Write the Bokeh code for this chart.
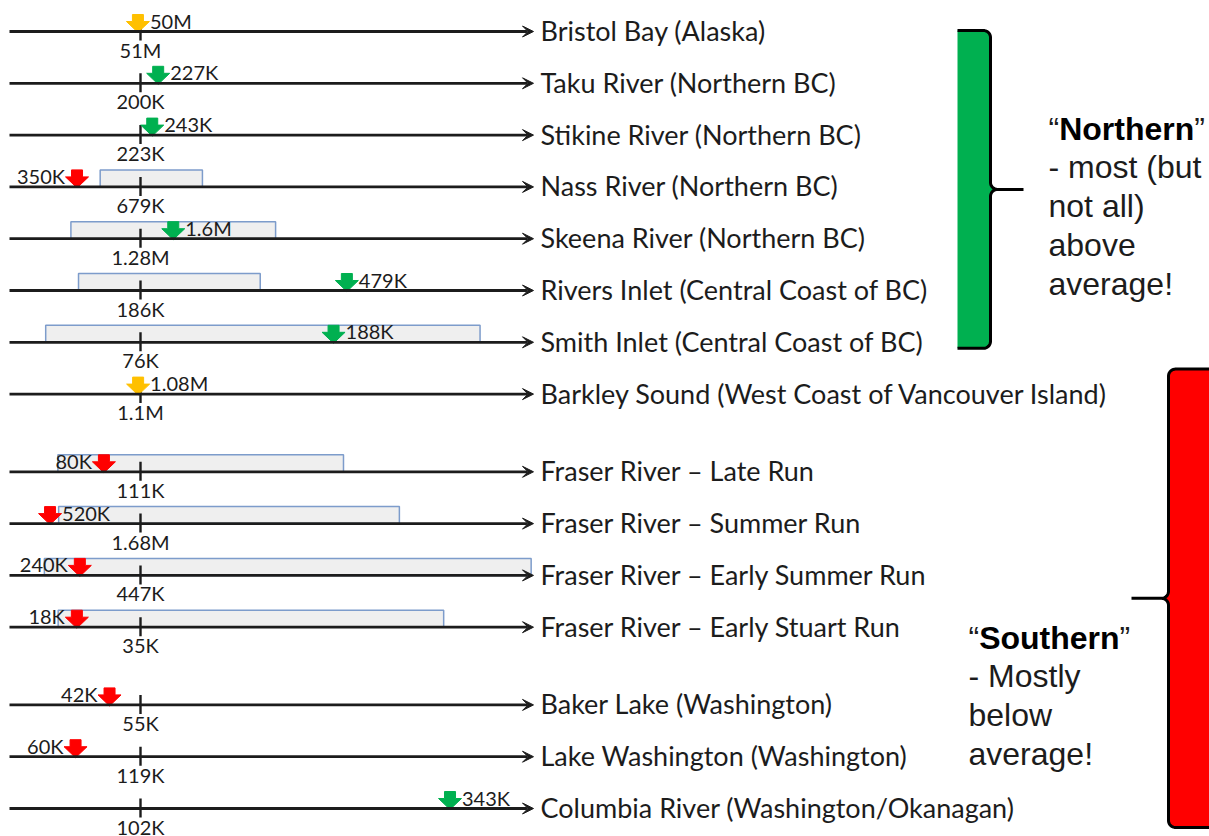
import math

from bokeh.core.properties import value
from bokeh.embed import file_html
from bokeh.models import Arrow, ColumnDataSource, Range1d, VeeHead
from bokeh.plotting import figure
from bokeh.resources import INLINE

# ---------------------------------------------------------------- data
stocks = [
    "Bristol Bay (Alaska)",
    "Taku River (Northern BC)",
    "Stikine River (Northern BC)",
    "Nass River (Northern BC)",
    "Skeena River (Northern BC)",
    "Rivers Inlet (Central Coast of BC)",
    "Smith Inlet (Central Coast of BC)",
    "Barkley Sound (West Coast of Vancouver Island)",
    "Fraser River \u2013 Late Run",
    "Fraser River \u2013 Summer Run",
    "Fraser River \u2013 Early Summer Run",
    "Fraser River \u2013 Early Stuart Run",
    "Baker Lake (Washington)",
    "Lake Washington (Washington)",
    "Columbia River (Washington/Okanagan)",
]
basin = ["coast"] * 8 + ["fraser"] * 4 + ["washington"] * 3
region = ["Northern"] * 7 + ["Southern"] * 8

average = [51e6, 200e3, 223e3, 679e3, 1.28e6, 186e3, 76e3, 1.1e6,
           111e3, 1.68e6, 447e3, 35e3, 55e3, 119e3, 102e3]
forecast = [50e6, 227e3, 243e3, 350e3, 1.6e6, 479e3, 188e3, 1.08e6,
            80e3, 520e3, 240e3, 18e3, 42e3, 60e3, 343e3]
range_low = [None, None, None, 470e3, 600e3, 98e3, 21e3, None,
             41e3, 630e3, 119e3, 13e3, None, None, None]
range_high = [None, None, None, 1.0e6, 2.6e6, 356e3, 273e3, None,
              283e3, 5.0e6, 1.78e6, 116e3, None, None, None]

region_notes = {
    "Northern": ["- most (but", "not all)", "above", "average!"],
    "Southern": ["- Mostly", "below", "average!"],
}

AXIS_MAX = 4  # every row's axis runs from 0 to 4x its average


def short(v):
    if v >= 1e6:
        return f"{v / 1e6:.2f}".rstrip("0").rstrip(".") + "M"
    return f"{v / 1e3:.0f}K"


# ---------------------------------------------------------------- layout
W, H = 1209, 836
X0, UNIT = 9, 131          # screen px of ratio 0, px per 1x average
ROW0, ROW = 31, 51.8       # screen px of first row, px per row
dx, dy = 1 / UNIT, 1 / ROW

rows, k, prev = [], 0.0, None
for b in basin:
    if prev is not None and b != prev:
        k += 0.5
    rows.append(k)
    k += 1
    prev = b


def row_px(r):
    return ROW0 + ROW * r


ratio = [f / a for f, a in zip(forecast, average)]

GREEN, RED, YELLOW = "#00B050", "#FF0000", "#FFC000"
status = [YELLOW if abs(r - 1) < 0.05 else (GREEN if r > 1 else RED) for r in ratio]

p = figure(
    width=W, height=H,
    x_range=Range1d(-X0 / UNIT, (W - X0) / UNIT),
    y_range=Range1d((H - ROW0) / ROW, -ROW0 / ROW),
    output_backend="svg", toolbar_location=None,
    x_axis_location=None, y_axis_location=None,
    min_border=0, background_fill_color="white", border_fill_color="white",
)
p.grid.visible = False
p.outline_line_color = None
p.extra_x_ranges = {"px": Range1d(0, W)}
p.extra_y_ranges = {"py": Range1d(H, 0)}

LABEL_FONT = value("Lato")
INK = "#1c1c1c"
SMALL = "20px"

# forecast ranges (boxes sitting on each axis)
box = [(l / a, h / a, r) for l, h, a, r in zip(range_low, range_high, average, rows) if l is not None]
p.quad(left=[b[0] for b in box], right=[b[1] for b in box],
       bottom=[b[2] for b in box], top=[b[2] - 17 * dy for b in box],
       fill_color="#efefef", line_color="#7d9ccb", line_width=1.5)

# axis arrows
axes_src = ColumnDataSource(dict(x0=[0] * len(rows), x1=[AXIS_MAX] * len(rows), y=rows))
p.add_layout(Arrow(
    end=VeeHead(size=11, fill_color=INK, line_color=INK, line_width=1),
    x_start="x0", y_start="y", x_end="x1", y_end="y", source=axes_src,
    line_width=2.8, line_color=INK,
))

# average tick
p.segment(x0=[1] * len(rows), x1=[1] * len(rows),
          y0=[r - 10 * dy for r in rows], y1=[r + 9 * dy for r in rows],
          line_width=2.4, line_color=INK)

# forecast markers: block arrows pointing down at the axis
xs, ys = [], []
for r, y in zip(ratio, rows):
    sh, hh = 5.5 * dx, 11.5 * dx
    xs.append([r - sh, r + sh, r + sh, r + hh, r, r - hh, r - sh])
    ys.append([y - 17 * dy, y - 17 * dy, y - 10 * dy, y - 10 * dy, y + 1 * dy, y - 10 * dy, y - 10 * dy])
p.patches(xs, ys, fill_color=status, line_color=status, line_width=1)

# average labels under the tick
p.text(x=[1] * len(rows), y=[r + 18 * dy for r in rows], text=[short(a) for a in average],
       text_font=LABEL_FONT, text_font_size=SMALL, text_color=INK,
       text_align="center", text_baseline="alphabetic")

# forecast labels beside the marker
left = [(s == RED and r > 0.4) for s, r in zip(status, ratio)]
lx = [r - 12 * dx for r, L in zip(ratio, left) if L]
ly = [y - 11 * dy for y, L in zip(rows, left) if L]
lt = [short(f) for f, L in zip(forecast, left) if L]
rx = [r + 12 * dx for r, L in zip(ratio, left) if not L]
ry = [y - 11 * dy for y, L in zip(rows, left) if not L]
rt = [short(f) for f, L in zip(forecast, left) if not L]
p.text(x=lx, y=ly, text=lt, text_font=LABEL_FONT, text_font_size=SMALL,
       text_color=INK, text_align="right", text_baseline="alphabetic")
p.text(x=rx, y=ry, text=rt, text_font=LABEL_FONT, text_font_size=SMALL,
       text_color=INK, text_align="left", text_baseline="alphabetic")

# stock names at the arrow tips
p.text(x=[AXIS_MAX + 7 * dx] * len(rows), y=[r - 1 * dy for r in rows], text=stocks,
       text_font=LABEL_FONT, text_font_size="27px", text_color=INK,
       text_align="left", text_baseline="alphabetic")


# ---------------------------------------------------------------- braces
def brace(x_edge, x_line, x_tip, y_top, y_bot, rad=7, n=10):
    s = 1 if x_tip > x_line else -1
    y_mid = (y_top + y_bot) / 2
    px, py = [x_edge], [y_top]
    cx, cy = x_line - s * rad, y_top + rad
    for i in range(n + 1):
        t = math.pi / 2 * i / n
        px.append(cx + s * rad * math.sin(t)); py.append(cy - rad * math.cos(t))
    cx, cy = x_line + s * rad, y_mid - rad
    for i in range(n + 1):
        t = math.pi / 2 * i / n
        px.append(cx - s * rad * math.cos(t)); py.append(cy + rad * math.sin(t))
    px += [x_tip, x_line + s * rad]; py += [y_mid, y_mid]
    cx, cy = x_line + s * rad, y_mid + rad
    for i in range(n + 1):
        t = math.pi / 2 * i / n
        px.append(cx - s * rad * math.sin(t)); py.append(cy - rad * math.cos(t))
    cx, cy = x_line - s * rad, y_bot - rad
    for i in range(n + 1):
        t = math.pi / 2 * i / n
        px.append(cx + s * rad * math.cos(t)); py.append(cy + rad * math.sin(t))
    px.append(x_edge); py.append(y_bot)
    return px, py


north_rows = [r for r, g in zip(rows, region) if g == "Northern"]
south_rows = [r for r, g in zip(rows, region) if g == "Southern"]

gx, gy = brace(957, 990, 1023, row_px(north_rows[0]) - 1, row_px(north_rows[-1]) + 6)
rx_, ry_ = brace(1215, 1168, 1131, row_px(south_rows[0]) - 25, row_px(south_rows[-1]) + 19)
for bx, by, col in ((gx, gy, GREEN), (rx_, ry_, RED)):
    p.patch(bx, by, fill_color=col, line_color=None, x_range_name="px", y_range_name="py")
    p.line(bx, by, line_color="black", line_width=3, x_range_name="px", y_range_name="py")

NOTE_FONT = value("Liberation Sans")
NOTE_SIZE = 32
Q = 0.333 * NOTE_SIZE  # width of a curly quote
bold_width = {"Northern": 4.222, "Southern": 4.389}
note_pos = {"Northern": (1048, 128), "Southern": (968, 637)}
LEAD = 38.8

for name, (x0, y0) in note_pos.items():
    wbold = bold_width[name] * NOTE_SIZE
    p.text(x=[x0, x0 + Q + wbold], y=[y0, y0], text=["\u201c", "\u201d"],
           text_font=NOTE_FONT, text_font_size=f"{NOTE_SIZE}px", text_color=INK,
           text_baseline="alphabetic", x_range_name="px", y_range_name="py")
    p.text(x=[x0 + Q], y=[y0], text=[name], text_font=NOTE_FONT,
           text_font_size=f"{NOTE_SIZE}px", text_font_style="bold", text_color="#000",
           text_baseline="alphabetic", x_range_name="px", y_range_name="py")
    lines = region_notes[name]
    p.text(x=[x0] * len(lines), y=[y0 + LEAD * (i + 1) for i in range(len(lines))], text=lines,
           text_font=NOTE_FONT, text_font_size=f"{NOTE_SIZE}px", text_color=INK,
           text_baseline="alphabetic", x_range_name="px", y_range_name="py")

open("out.html", "w").write(file_html(p, INLINE))
